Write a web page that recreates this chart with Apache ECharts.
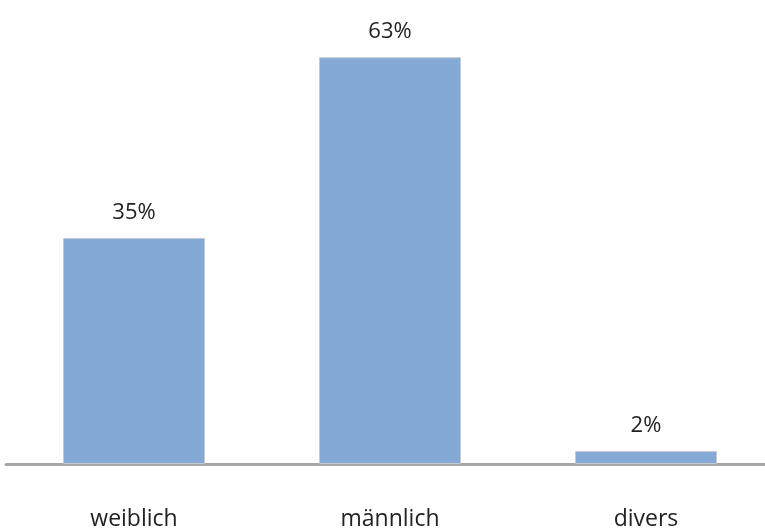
<!DOCTYPE html>
<html><head><meta charset="utf-8">
<script src="https://cdn.jsdelivr.net/npm/echarts@6/dist/echarts.min.js"></script>
<style>html,body{margin:0;padding:0;background:#fff;overflow:hidden}#c{width:774px;height:531px}</style>
</head><body><div id="c"></div>
<script>
const categories = ["weiblich", "männlich", "divers"];
const values = [35, 63, 2];
const labelSuffix = "%";

const chart = echarts.init(document.getElementById('c'));
chart.setOption({
  animation: false,
  grid: { left: 6, top: 12, bottom: 66, right: 0 },
  xAxis: {
    type: 'category', data: categories,
    axisLine: { lineStyle: { color: '#a6a6a6', width: 3 } },
    axisTick: { show: false },
    axisLabel: { margin: 44, fontSize: 23, color: '#222', fontFamily: 'Open Sans' }
  },
  yAxis: { type: 'value', min: 0, max: 70, show: false, splitLine: { show: false } },
  series: [{
    type: 'bar', data: values, barWidth: 142,
    itemStyle: { color: '#85a9d5', borderColor: '#c4cad2', borderWidth: 1 },
    label: { show: true, position: 'top', distance: 14, fontSize: 22, color: '#222', fontFamily: 'Open Sans',
      formatter: p => p.value + labelSuffix }
  }]
});
</script></body></html>
